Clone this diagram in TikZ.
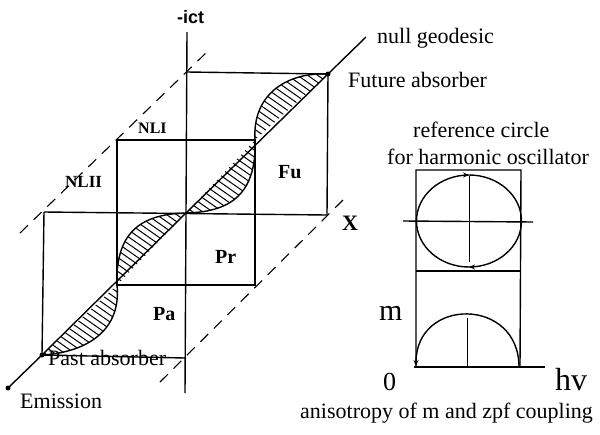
\documentclass[tikz,border=0pt]{standalone}
\usepackage{fontspec}
\setmainfont{Liberation Serif}
\newfontfamily\lsans{Liberation Sans}
\usetikzlibrary{arrows.meta,decorations.markings}
\begin{document}
\begin{tikzpicture}[x=1pt,y=-1pt,
  ln/.style={line width=1.4pt},
  thinln/.style={line width=1pt},
  boxln/.style={line width=2pt},
  dashln/.style={line width=1.1pt, dash pattern=on 11pt off 8pt},
  hatchln/.style={line width=1pt},
  lbl/.style={font=\fontsize{22}{24}\selectfont, inner sep=0pt, anchor=base west},
  blbl/.style={font=\fontsize{20}{22}\selectfont\bfseries, inner sep=0pt, anchor=base west},
  dot/.style={circle, fill, inner sep=0pt, minimum size=5pt}]
\useasboundingbox (0,0) rectangle (600,434);

% key points
\coordinate (O) at (186,213);
\coordinate (Em) at (8,388);
\coordinate (A) at (42,355);
\coordinate (B) at (117,285);
\coordinate (D) at (255,140);
\coordinate (F) at (328,74);
\coordinate (Ng) at (366,37);

% hatched lobes
\begin{scope}
  \clip (A) -- (B) .. controls (122,335) and (80,353) .. (A);
  \foreach \i in {-480,-470,...,240} \draw[hatchln] (\i,0) -- ++(620,434);
\end{scope}
\begin{scope}
  \clip (B) -- (O) .. controls (146,214) and (115,228) .. (B);
  \foreach \i in {-480,-470,...,240} \draw[hatchln] (\i,0) -- ++(620,434);
\end{scope}
\begin{scope}
  \clip (O) -- (D) .. controls (257,198) and (226,212) .. (O);
  \foreach \i in {-480,-470,...,240} \draw[hatchln] (\i,0) -- ++(620,434);
\end{scope}
\begin{scope}
  \clip (D) -- (F) .. controls (290,72) and (252,92) .. (D);
  \foreach \i in {-480,-470,...,240} \draw[hatchln] (\i,0) -- ++(620,434);
\end{scope}
\draw[ln] (B) .. controls (122,335) and (80,353) .. (A);
\draw[ln] (O) .. controls (146,214) and (115,228) .. (B);
\draw[ln] (D) .. controls (257,198) and (226,212) .. (O);
\draw[ln] (F) .. controls (290,72) and (252,92) .. (D);

% axes
\coordinate (ytop) at (187,32);
\coordinate (ybot) at (185,393);
\coordinate (xl) at (44,212);
\coordinate (xr) at (327,215);
\draw[ln] (ytop) -- (ybot);
\draw[ln] (xl) -- (xr);

% boxes
\draw[boxln] (117,140) rectangle (255,285);
\draw[ln] (187,72) -- (F) -- (xr);
\draw[ln] (xl) -- (A) -- (185,358);

% null geodesic
\draw[ln] (Em) -- (A) -- (O) -- (F) -- (Ng);
\node[dot] (em) at (Em) {};
\node[dot] (pa) at (A) {};
\node[dot] (fa) at (F) {};

% dashed parallels
\coordinate (d1a) at (20,233);
\coordinate (d1b) at (207,52);
\coordinate (d2a) at (160,382);
\coordinate (d2b) at (343,200);
\draw[dashln] (d1a) -- (d1b);
\draw[dashln] (d2a) -- (d2b);

% labels main
\node[font=\fontsize{18}{20}\selectfont\lsans\bfseries, inner sep=0pt, anchor=base west] (ict) at (177,23) {-ict};
\node[blbl, font=\fontsize{16}{18}\selectfont\bfseries] (nl1) at (138,133) {NLI};
\node[blbl, font=\fontsize{17}{19}\selectfont\bfseries] (nl2) at (65,187) {NLII};
\node[blbl] (fu) at (278,178) {Fu};
\node[blbl] (pr) at (215,263) {Pr};
\node[blbl] (pat) at (153,320) {Pa};
\node[blbl, font=\fontsize{22}{24}\selectfont\bfseries] (xx) at (342,230) {X};
\node[lbl] (tng) at (377,43) {null geodesic};
\node[lbl] (tfa) at (348,87) {Future absorber};
\node[lbl] (tpa) at (48,365) {Past absorber};
\node[lbl] (tem) at (20,408) {Emission};

% right panel
\draw[ln] (416,367) -- (416,170) -- (521,170) -- (520,367);
\draw[ln] (403,221) -- (533,222);
\draw[ln] (416,271) -- (520,271);
\draw[ln] (414,367) -- (545,367);
\draw[ln, postaction={decorate}, decoration={markings,
   mark=at position 0.25 with {\arrow{Stealth[length=6pt,width=5pt]}},
   mark=at position 0.75 with {\arrow{Stealth[length=6pt,width=5pt]}}}]
   (469,221) ellipse [x radius=52.5, y radius=46];
\draw[thinln] (469,176) -- (469,262);
\draw[ln, {Stealth[length=6pt,width=5pt]}-] (416,366) .. controls (416,297) and (519,297) .. (519,367);
\draw[thinln] (467,318) -- (467,367);

\node[lbl] (trc1) at (413,137) {reference circle};
\node[lbl] (trc2) at (387,164) {for harmonic oscillator};
\node[lbl, font=\fontsize{30}{32}\selectfont] (tm) at (379,320) {m};
\node[lbl, font=\fontsize{26}{28}\selectfont] (t0) at (383,390) {0};
\node[lbl, font=\fontsize{32}{34}\selectfont] (thv) at (555,390) {hv};
\node[lbl] (tan) at (300,418) {anisotropy of m and zpf coupling};
\end{tikzpicture}
\end{document}
